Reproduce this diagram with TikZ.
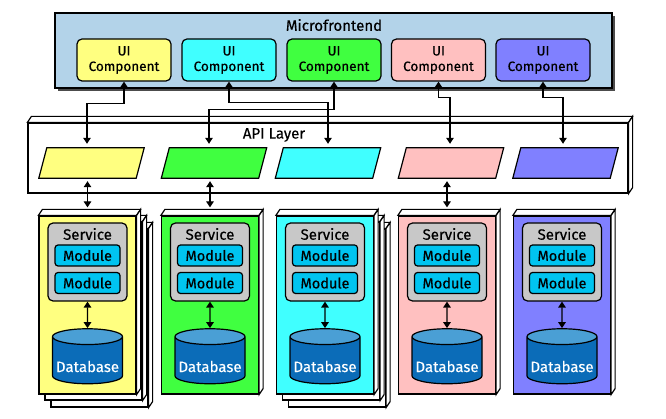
\documentclass[tikz,border=0pt]{standalone}
\usepackage{fontspec}
\setmainfont{Fira Sans}[FakeBold=0.4]
\usetikzlibrary{arrows.meta,shapes.geometric,shadows}
\definecolor{mfeblue}{HTML}{B3D3E9}
\definecolor{cYellow}{HTML}{FFFF80}
\definecolor{cCyan}{HTML}{40FFFF}
\definecolor{cGreen}{HTML}{40FF40}
\definecolor{cPink}{HTML}{FFC0C0}
\definecolor{cBlue}{HTML}{8080FF}
\definecolor{svcgray}{HTML}{C8C8C8}
\definecolor{modblue}{HTML}{00C4F0}
\definecolor{dbtop}{HTML}{4A9FD5}
\definecolor{dbbody}{HTML}{0B6CB8}
\tikzset{
  box/.style={draw, line width=1.2pt},
  ui/.style={box, rounded corners=5pt, minimum width=94pt, minimum height=42pt, inner sep=0pt, align=center, font=\fontsize{13.5}{15.5}\selectfont},
  api/.style={minimum width=97pt, minimum height=30pt, inner sep=0pt},
  stack/.style={box, minimum width=97pt, minimum height=178pt, inner sep=0pt},
  svc/.style={box, fill=svcgray, rounded corners=5pt, minimum width=79pt, minimum height=78pt, inner sep=0pt},
  svctext/.style={font=\fontsize{15}{17}\selectfont, inner sep=0pt},
  module/.style={box, fill=modblue, rounded corners=3pt, minimum width=65pt, minimum height=21pt, inner sep=0pt, font=\fontsize{14.5}{17}\selectfont},
  db/.style={box, cylinder, shape border rotate=90, aspect=0.25, cylinder uses custom fill, cylinder end fill=dbtop, cylinder body fill=dbbody, minimum width=70pt, minimum height=55pt, inner sep=0pt, text=white, font=\fontsize{15}{17}\selectfont},
  dbl/.style={{Triangle[length=6pt,width=7.5pt]}-{Triangle[length=6pt,width=7.5pt]}, line width=1.2pt},
  title/.style={font=\fontsize{15}{17}\selectfont, inner sep=0pt}
}
% top and side faces of a flat box
\newcommand{\depthfaces}[1]{%
  \draw[box, fill=white] (#1.north west) -- ++(4,-6) -- ([shift={(4,-6)}]#1.north east) -- (#1.north east) -- cycle;
  \draw[box, fill=white] (#1.north east) -- ([shift={(4,-6)}]#1.north east) -- ([shift={(4,-6)}]#1.south east) -- (#1.south east) -- cycle;}
% slanted api slot over a node
\newcommand{\slot}[2]{%
  \draw[box, fill=#2] ([xshift=-4pt]#1.south west) -- ([xshift=4pt]#1.north west) -- ([xshift=4pt]#1.north east) -- ([xshift=-4pt]#1.south east) -- cycle;}
\newcommand{\dbtext}{\raisebox{-6pt}[\height][\depth]{Database}}
\begin{document}
\begin{tikzpicture}[x=1pt, y=-1pt]
\useasboundingbox (0,0) rectangle (666,419);
% Microfrontend
\node[box, fill=mfeblue, minimum width=557pt, minimum height=75pt, drop shadow={shadow xshift=3pt, shadow yshift=-3pt, fill=black!70, opacity=1}] (mfe) at (333.5,50.5) {};
\node[title] (mfetitle) at (334,25) {Microfrontend};
\node[ui, fill=cYellow] (uiY) at (124,60) {UI\\Component};
\node[ui, fill=cCyan] (uiC) at (229,60) {UI\\Component};
\node[ui, fill=cGreen] (uiG) at (334,60) {UI\\Component};
\node[ui, fill=cPink] (uiP) at (438.5,60) {UI\\Component};
\node[ui, fill=cBlue] (uiB) at (543,60) {UI\\Component};
% API Layer
\node[box, fill=white, minimum width=600pt, minimum height=70pt] (api) at (328,158) {};
\depthfaces{api}
\node[title] (apititle) at (274,135) {API Layer};
\node[api] (apiY) at (91.5,163) {};
\node[api] (apiG) at (214,163) {};
\node[api] (apiC) at (328,163) {};
\node[api] (apiP) at (451,163) {};
\node[api] (apiB) at (565.5,163) {};
\slot{apiY}{cYellow}
\slot{apiG}{cGreen}
\slot{apiC}{cCyan}
\slot{apiP}{cPink}
\slot{apiB}{cBlue}
% UI -> API
\draw[dbl] (uiY.south) -- ++(0,22) -| ([xshift=-4.5pt, yshift=4pt]apiY.north);
\draw[dbl] (uiC.south) -- ++(0,21) -| ([yshift=4pt]apiC.north);
\draw[dbl] (uiG.south) -- ++(0,28) -| ([xshift=-5pt, yshift=4pt]apiG.north);
\draw[dbl] (uiP.south) -- ++(0,16) -| ([xshift=-1pt, yshift=4pt]apiP.north);
\draw[dbl] (uiB.south) -- ++(0,16) -| ([xshift=-2.5pt, yshift=4pt]apiB.north);
% Stapelt
\node[stack, fill=white] (stackY3) at (99.5,318) {};
\depthfaces{stackY3}
\node[stack, fill=white] (stackY2) at (93.5,311) {};
\depthfaces{stackY2}
\node[stack, fill=cYellow] (stackY) at (87.5,305) {};
\depthfaces{stackY}
\node[stack, fill=cGreen] (stackG) at (210,305) {};
\depthfaces{stackG}
\node[stack, fill=white] (stackC3) at (337,318) {};
\depthfaces{stackC3}
\node[stack, fill=white] (stackC2) at (331,311) {};
\depthfaces{stackC2}
\node[stack, fill=cCyan] (stackC) at (325,305) {};
\depthfaces{stackC}
\node[stack, fill=cPink] (stackP) at (447,305) {};
\depthfaces{stackP}
\node[stack, fill=cBlue] (stackB) at (562,305) {};
\depthfaces{stackB}
% Palvelut
\node[svc] (svcY) at (87.5,262) {};
\node[svc] (svcG) at (210,262) {};
\node[svc] (svcC) at (325,262) {};
\node[svc] (svcP) at (447,262) {};
\node[svc] (svcB) at (562,262) {};
\node[svctext] (svcYt) at (87.5,234) {Service};
\node[svctext] (svcGt) at (210,234) {Service};
\node[svctext] (svcCt) at (325,234) {Service};
\node[svctext] (svcPt) at (447,234) {Service};
\node[svctext] (svcBt) at (562,234) {Service};
% Moduulit
\node[module] (modY1) at (87.5,255.5) {Module};
\node[module] (modY2) at (87.5,283) {Module};
\node[module] (modG1) at (210,255.5) {Module};
\node[module] (modG2) at (210,283) {Module};
\node[module] (modC1) at (325,255.5) {Module};
\node[module] (modC2) at (325,283) {Module};
\node[module] (modP1) at (447,255.5) {Module};
\node[module] (modP2) at (447,283) {Module};
\node[module] (modB1) at (562,255.5) {Module};
\node[module] (modB2) at (562,283) {Module};
% Tietokannat
\node[db] (dbY) at (87.5,360.5) {\dbtext};
\node[db] (dbG) at (210,360.5) {\dbtext};
\node[db] (dbC) at (325,360.5) {\dbtext};
\node[db] (dbP) at (447,360.5) {\dbtext};
\node[db] (dbB) at (562,360.5) {\dbtext};
% Nuolet
\draw[dbl] ([xshift=-4pt, yshift=-3pt]apiY.south) -- ([yshift=8pt]stackY.north);
\draw[dbl] ([xshift=-4pt, yshift=-3pt]apiG.south) -- ([yshift=8pt]stackG.north);
\draw[dbl] ([xshift=-4pt, yshift=-3pt]apiP.south) -- ([yshift=8pt]stackP.north);
\draw[dbl] (svcY.south) -- (dbY.north);
\draw[dbl] (svcG.south) -- (dbG.north);
\draw[dbl] (svcC.south) -- (dbC.north);
\draw[dbl] (svcP.south) -- (dbP.north);
\draw[dbl] (svcB.south) -- (dbB.north);
\end{tikzpicture}
\end{document}
